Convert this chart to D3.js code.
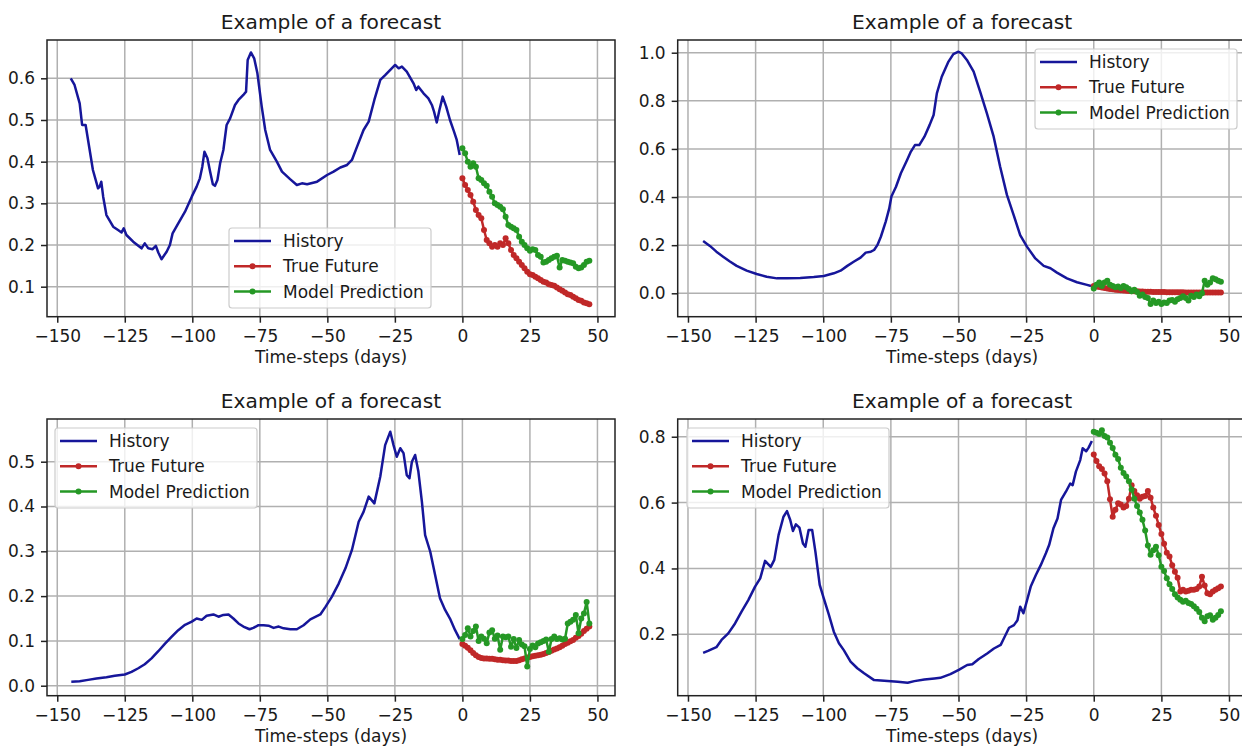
<!DOCTYPE html>
<html><head><meta charset="utf-8">
<script src="https://cdn.jsdelivr.net/npm/d3@7"></script>
<style>
body{margin:0;background:#fff}
svg{display:block}
text{font-family:"DejaVu Sans",sans-serif;fill:#1a1a1a}
</style>
</head><body>
<svg id="c" width="1242" height="749"></svg>
<script>
// ---------------- data ----------------
const titleText = "Example of a forecast";
const xLabelText = "Time-steps (days)";
const legendLabels = ["History", "True Future", "Model Prediction"];
const xTicks = [-150, -125, -100, -75, -50, -25, 0, 25, 50];
const yTicks1 = [0.1, 0.2, 0.3, 0.4, 0.5, 0.6];
const yTicks2 = [0.0, 0.2, 0.4, 0.6, 0.8, 1.0];
const yTicks3 = [0.0, 0.1, 0.2, 0.3, 0.4, 0.5];
const yTicks4 = [0.2, 0.4, 0.6, 0.8];
const futureSteps = [0,1,2,3,4,5,6,7,8,9,10,11,12,13,14,15,16,17,18,19,20,21,22,23,24,25,26,27,28,29,30,31,32,33,34,35,36,37,38,39,40,41,42,43,44,45,46,47];

// panel 1 (top-left)
const hist1 = [[-145,0.600],[-143.6,0.584],[-141.7,0.540],[-140.8,0.488],[-139.5,0.488],[-138,0.428],[-136.8,0.380],[-134.9,0.336],[-134.3,0.340],[-133.7,0.352],[-133,0.316],[-131.8,0.272],[-129.3,0.244],[-127.5,0.236],[-126.2,0.230],[-125.4,0.240],[-124.4,0.224],[-121.9,0.208],[-118.8,0.192],[-117.6,0.204],[-116.3,0.192],[-114.7,0.190],[-113.5,0.198],[-112.6,0.182],[-111.4,0.166],[-109.5,0.184],[-108.3,0.200],[-107.3,0.228],[-105.2,0.252],[-102.7,0.280],[-100.2,0.316],[-98.4,0.340],[-97.2,0.360],[-96.3,0.388],[-95.5,0.424],[-94.4,0.408],[-93.4,0.376],[-92.4,0.346],[-91.6,0.342],[-90.7,0.356],[-89.7,0.396],[-88.5,0.428],[-87.3,0.488],[-86,0.504],[-84.2,0.536],[-82.9,0.548],[-81.1,0.560],[-80.1,0.568],[-79.5,0.644],[-78.3,0.662],[-77.1,0.648],[-75.9,0.612],[-74.3,0.532],[-73,0.476],[-71.2,0.428],[-68.7,0.400],[-66.8,0.376],[-63.8,0.358],[-61.3,0.344],[-59.4,0.348],[-57.5,0.346],[-53.8,0.352],[-50.1,0.368],[-47.7,0.376],[-45.2,0.386],[-42.7,0.392],[-40.9,0.404],[-39,0.436],[-36.6,0.476],[-34.7,0.496],[-32.6,0.548],[-30.4,0.596],[-28.5,0.608],[-26.7,0.620],[-24.9,0.632],[-23.6,0.624],[-22.4,0.628],[-20.6,0.616],[-18.1,0.588],[-17.1,0.572],[-16.3,0.580],[-14.4,0.564],[-12.6,0.552],[-11.3,0.536],[-10.5,0.520],[-9.5,0.494],[-8.5,0.524],[-7.3,0.556],[-6,0.532],[-4.6,0.500],[-3.1,0.472],[-2.1,0.452],[-1,0.416]];
const true1 = [0.360,0.344,0.332,0.320,0.304,0.284,0.272,0.264,0.236,0.212,0.204,0.196,0.200,0.196,0.204,0.200,0.216,0.204,0.188,0.176,0.168,0.160,0.152,0.144,0.136,0.130,0.128,0.124,0.120,0.116,0.112,0.110,0.106,0.104,0.102,0.098,0.094,0.090,0.086,0.082,0.080,0.076,0.072,0.068,0.066,0.062,0.060,0.058];
const pred1 = [0.432,0.420,0.400,0.388,0.396,0.388,0.360,0.356,0.348,0.342,0.328,0.316,0.300,0.296,0.292,0.286,0.268,0.248,0.244,0.240,0.236,0.220,0.208,0.200,0.192,0.186,0.190,0.188,0.176,0.172,0.158,0.160,0.164,0.168,0.172,0.174,0.146,0.164,0.162,0.160,0.158,0.156,0.148,0.144,0.146,0.152,0.160,0.162];

// panel 2 (top-right)
const hist2 = [[-144.4,0.217],[-141.9,0.197],[-139.5,0.173],[-137,0.152],[-134.5,0.132],[-132,0.114],[-128.3,0.094],[-124.6,0.080],[-120.9,0.069],[-117.1,0.062],[-113.4,0.062],[-108.5,0.064],[-103.5,0.068],[-99.8,0.072],[-96.1,0.083],[-93.6,0.094],[-91.1,0.114],[-88.6,0.132],[-86.2,0.148],[-84.3,0.169],[-82.4,0.173],[-81.2,0.180],[-80,0.200],[-78.7,0.235],[-76.9,0.298],[-75.6,0.353],[-74.8,0.402],[-73.1,0.443],[-71.3,0.499],[-69,0.554],[-67.6,0.589],[-66.1,0.616],[-64.5,0.616],[-62.6,0.651],[-60.7,0.699],[-59.2,0.741],[-58,0.831],[-56.2,0.900],[-53.7,0.963],[-51.9,0.994],[-50,1.004],[-48.8,0.997],[-46.9,0.970],[-44.4,0.921],[-42,0.838],[-39.5,0.748],[-37,0.651],[-34.6,0.526],[-32.1,0.409],[-29.6,0.325],[-27.2,0.242],[-24.7,0.194],[-21.6,0.145],[-18.5,0.114],[-16,0.104],[-13.6,0.086],[-9.9,0.062],[-6.2,0.046],[-2.5,0.035],[-1,0.030]];
const true2 = [0.030,0.028,0.026,0.024,0.022,0.020,0.018,0.017,0.015,0.014,0.013,0.012,0.011,0.010,0.009,0.008,0.008,0.007,0.007,0.006,0.006,0.006,0.005,0.005,0.005,0.005,0.005,0.004,0.004,0.004,0.004,0.004,0.004,0.004,0.003,0.003,0.003,0.003,0.003,0.003,0.003,0.003,0.003,0.003,0.003,0.003,0.003,0.003];
const pred2 = [0.020,0.035,0.045,0.030,0.045,0.052,0.035,0.030,0.025,0.028,0.022,0.030,0.025,0.018,0.008,0.015,0.005,-0.010,-0.005,-0.015,-0.020,-0.045,-0.030,-0.040,-0.035,-0.045,-0.038,-0.040,-0.030,-0.028,-0.035,-0.025,-0.020,-0.012,-0.020,-0.030,-0.010,-0.015,-0.005,-0.012,0.000,0.052,0.035,0.045,0.062,0.058,0.052,0.048];

// panel 3 (bottom-left)
const hist3 = [[-144.8,0.009],[-141.7,0.010],[-138.6,0.013],[-135.5,0.016],[-131.8,0.019],[-128.7,0.022],[-125,0.025],[-122.5,0.031],[-120,0.039],[-117.6,0.048],[-115.1,0.061],[-112.6,0.077],[-110.1,0.094],[-107.7,0.109],[-105.2,0.124],[-102.7,0.136],[-100.2,0.143],[-98.4,0.150],[-96.5,0.147],[-94.7,0.156],[-92.2,0.159],[-90.3,0.154],[-88.5,0.158],[-86.6,0.159],[-84.8,0.150],[-82.9,0.139],[-81.1,0.132],[-78.8,0.126],[-77.4,0.129],[-75.5,0.135],[-73.6,0.135],[-71.8,0.134],[-69.9,0.129],[-68,0.132],[-66.2,0.128],[-63.7,0.126],[-61.3,0.126],[-58.8,0.135],[-56.3,0.148],[-52.6,0.159],[-50.7,0.176],[-48.3,0.199],[-45.8,0.228],[-43.3,0.262],[-40.9,0.303],[-38.4,0.366],[-36.6,0.388],[-34.7,0.422],[-32.6,0.407],[-30.4,0.467],[-28.6,0.537],[-26.7,0.567],[-25.5,0.537],[-24.3,0.511],[-23,0.530],[-21.8,0.519],[-20.6,0.470],[-19.6,0.463],[-18.7,0.500],[-17.5,0.515],[-16.3,0.478],[-15,0.411],[-13.8,0.336],[-11.9,0.299],[-10.1,0.247],[-8.3,0.195],[-6.4,0.169],[-4.6,0.150],[-2.7,0.124],[-1,0.104]];
const true3 = [0.093,0.089,0.085,0.079,0.073,0.068,0.064,0.062,0.061,0.061,0.060,0.060,0.059,0.058,0.058,0.057,0.056,0.056,0.055,0.055,0.055,0.057,0.059,0.061,0.063,0.064,0.066,0.067,0.068,0.069,0.071,0.073,0.075,0.078,0.081,0.083,0.086,0.089,0.093,0.096,0.099,0.102,0.107,0.111,0.116,0.122,0.127,0.132];
const pred3 = [0.104,0.113,0.128,0.110,0.122,0.132,0.100,0.110,0.105,0.095,0.119,0.124,0.105,0.112,0.080,0.110,0.108,0.110,0.087,0.104,0.084,0.102,0.092,0.088,0.043,0.082,0.090,0.086,0.094,0.097,0.100,0.103,0.076,0.104,0.110,0.104,0.106,0.103,0.105,0.139,0.143,0.147,0.158,0.117,0.150,0.161,0.187,0.139];

// panel 4 (bottom-right)
const hist4 = [[-144.4,0.144],[-142.6,0.150],[-139.5,0.161],[-137.6,0.183],[-135.1,0.203],[-132.6,0.233],[-130.2,0.269],[-127.7,0.304],[-125.2,0.345],[-123.3,0.370],[-121.5,0.423],[-119.4,0.405],[-118.1,0.426],[-116.5,0.502],[-114.7,0.557],[-113.4,0.574],[-112.2,0.547],[-111.2,0.514],[-110.1,0.534],[-108.8,0.524],[-107.5,0.476],[-106.6,0.466],[-105.4,0.517],[-104.1,0.517],[-102.9,0.451],[-101.3,0.350],[-99.8,0.309],[-97.9,0.259],[-96.1,0.208],[-94.2,0.173],[-92.4,0.152],[-89.9,0.117],[-87.4,0.097],[-84.9,0.082],[-81.2,0.061],[-76.2,0.058],[-72.5,0.056],[-68.8,0.053],[-66.3,0.058],[-62.6,0.063],[-58.9,0.066],[-56.7,0.068],[-53,0.079],[-49.9,0.092],[-46.8,0.107],[-44.9,0.109],[-42.5,0.125],[-39.4,0.142],[-36.9,0.157],[-34.4,0.168],[-33.2,0.188],[-31.3,0.220],[-29.5,0.228],[-28.2,0.243],[-27.2,0.284],[-26,0.264],[-24.8,0.299],[-23.3,0.345],[-21.4,0.380],[-19.6,0.410],[-17.7,0.446],[-16.5,0.471],[-14.9,0.522],[-13.4,0.552],[-12.1,0.608],[-10.3,0.633],[-8.7,0.658],[-7.8,0.653],[-6.6,0.694],[-5,0.729],[-4.1,0.765],[-2.8,0.756],[-1.9,0.767],[-0.7,0.787]];
const true4 = [0.746,0.726,0.710,0.702,0.688,0.665,0.610,0.557,0.578,0.598,0.594,0.585,0.590,0.612,0.653,0.635,0.622,0.612,0.618,0.620,0.635,0.615,0.585,0.560,0.532,0.505,0.475,0.448,0.436,0.410,0.390,0.372,0.330,0.335,0.330,0.332,0.335,0.335,0.338,0.345,0.375,0.348,0.325,0.322,0.330,0.335,0.340,0.345];
const pred4 = [0.815,0.812,0.808,0.820,0.802,0.798,0.782,0.766,0.745,0.732,0.706,0.690,0.679,0.665,0.640,0.612,0.590,0.570,0.548,0.515,0.470,0.442,0.455,0.466,0.440,0.405,0.392,0.370,0.352,0.338,0.322,0.312,0.305,0.299,0.302,0.295,0.292,0.285,0.278,0.268,0.250,0.240,0.255,0.258,0.244,0.250,0.259,0.270];

// ---------------- layout / style ----------------
const COL_HIST = "#16169a", COL_TRUE = "#c02828", COL_PRED = "#259825";
const xDom = [-153.8, 56.5];
const panels = [
  {left:47, right:615, top:40, bottom:316.7, yDom:[0.028,0.6919], yTicks:yTicks1, hist:hist1, tru:true1, pred:pred1, leg:[229,228]},
  {left:677.7, right:1246.6, top:40, bottom:316.7, yDom:[-0.0973,1.0528], yTicks:yTicks2, hist:hist2, tru:true2, pred:pred2, leg:[1035,49]},
  {left:47, right:615, top:419, bottom:695.7, yDom:[-0.0223,0.5953], yTicks:yTicks3, hist:hist3, tru:true3, pred:pred3, leg:[55,428]},
  {left:677.7, right:1246.6, top:419, bottom:695.7, yDom:[0.0137,0.8538], yTicks:yTicks4, hist:hist4, tru:true4, pred:pred4, leg:[687,428]}
];
const FS = 17;
const minus = s => s.replace("-", "\u2212");

const svg = d3.select("#c");
svg.append("rect").attr("width",1242).attr("height",749).attr("fill","#fff");

panels.forEach(p => {
  const g = svg.append("g");
  const x = d3.scaleLinear().domain(xDom).range([p.left, p.right]);
  const y = d3.scaleLinear().domain(p.yDom).range([p.bottom, p.top]);

  g.append("rect").attr("x",p.left).attr("y",p.top).attr("width",p.right-p.left).attr("height",p.bottom-p.top).attr("fill","#fff");

  // grid
  g.append("g").selectAll("line").data(xTicks).join("line")
    .attr("x1",d=>x(d)).attr("x2",d=>x(d)).attr("y1",p.top).attr("y2",p.bottom)
    .attr("stroke","#b0b0b0").attr("stroke-width",1.5);
  g.append("g").selectAll("line").data(p.yTicks).join("line")
    .attr("y1",d=>y(d)).attr("y2",d=>y(d)).attr("x1",p.left).attr("x2",p.right)
    .attr("stroke","#b0b0b0").attr("stroke-width",1.5);

  // history
  const lineH = d3.line().x(d=>x(d[0])).y(d=>y(d[1]));
  g.append("path").datum(p.hist).attr("d",lineH).attr("fill","none")
    .attr("stroke",COL_HIST).attr("stroke-width",2.5).attr("stroke-linejoin","round");

  // future series
  const lineF = d3.line().x((d,i)=>x(futureSteps[i])).y(d=>y(d));
  [[p.tru, COL_TRUE],[p.pred, COL_PRED]].forEach(([vals,col]) => {
    g.append("path").datum(vals).attr("d",lineF).attr("fill","none")
      .attr("stroke",col).attr("stroke-width",2.5).attr("stroke-linejoin","round");
    g.append("g").selectAll("circle").data(vals).join("circle")
      .attr("cx",(d,i)=>x(futureSteps[i])).attr("cy",d=>y(d)).attr("r",3).attr("fill",col);
  });

  // spines
  g.append("rect").attr("x",p.left).attr("y",p.top).attr("width",p.right-p.left).attr("height",p.bottom-p.top)
    .attr("fill","none").attr("stroke","#222").attr("stroke-width",1.5);

  // axes
  const ax = g.append("g").attr("transform",`translate(0,${p.bottom})`)
    .call(d3.axisBottom(x).tickValues(xTicks).tickSize(6).tickPadding(7).tickFormat(d=>minus(String(d))));
  const ay = g.append("g").attr("transform",`translate(${p.left},0)`)
    .call(d3.axisLeft(y).tickValues(p.yTicks).tickSize(6).tickPadding(6).tickFormat(d3.format(".1f")));
  [ax,ay].forEach(a => {
    a.select(".domain").remove();
    a.selectAll(".tick line").attr("stroke","#222").attr("stroke-width",1.5);
    a.selectAll(".tick text").attr("font-size",FS).attr("font-family","DejaVu Sans").attr("fill","#1a1a1a");
  });

  const cx = (p.left+p.right)/2;
  g.append("text").attr("x",cx).attr("y",p.top-11).attr("text-anchor","middle")
    .attr("font-size",20.2).text(titleText);
  g.append("text").attr("x",cx).attr("y",p.bottom+46.3).attr("text-anchor","middle")
    .attr("font-size",FS).text(xLabelText);

  // legend
  const [lx,ly] = p.leg;
  const lg = g.append("g");
  lg.append("rect").attr("x",lx).attr("y",ly).attr("width",202).attr("height",80).attr("rx",3)
    .attr("fill","#fff").attr("fill-opacity",0.8).attr("stroke","#cccccc").attr("stroke-width",1.2);
  const cols = [COL_HIST, COL_TRUE, COL_PRED];
  legendLabels.forEach((lab,i) => {
    const yy = ly + 13 + i*25.3;
    lg.append("line").attr("x1",lx+5).attr("x2",lx+42).attr("y1",yy).attr("y2",yy)
      .attr("stroke",cols[i]).attr("stroke-width",2.5);
    if (i>0) lg.append("circle").attr("cx",lx+23.5).attr("cy",yy).attr("r",3).attr("fill",cols[i]);
    lg.append("text").attr("x",lx+54).attr("y",yy).attr("dy","0.35em").attr("font-size",FS).text(lab);
  });
});
</script>
</body></html>
